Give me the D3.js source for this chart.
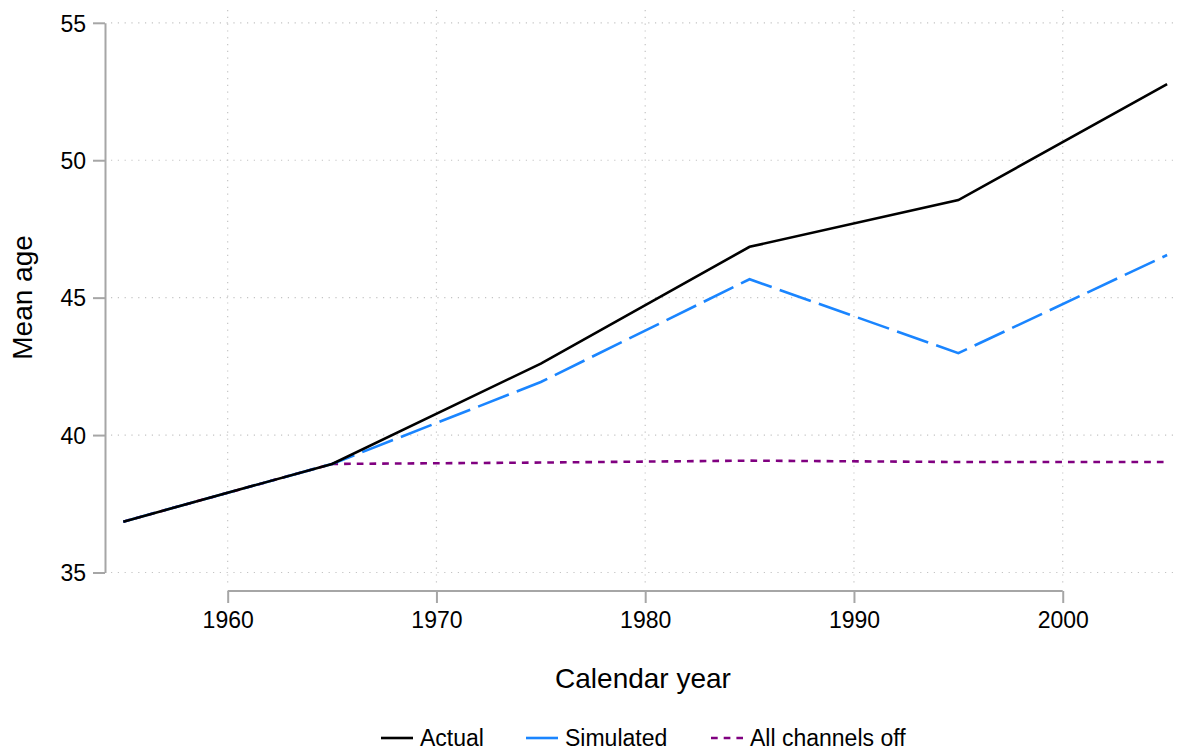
<!DOCTYPE html>
<html>
<head>
<meta charset="utf-8">
<script src="https://cdn.jsdelivr.net/npm/d3@7"></script>
<style>
  body { margin: 0; background: #fff; }
  text { font-family: "Liberation Sans", Arial, Helvetica, sans-serif; fill: #000; }
</style>
</head>
<body>
<div id="chart-area"></div>
<script>
// chart size
var width = 1178,
    height = 751;

// data
let years = [1955, 1965, 1975, 1985, 1995, 2005];
let actual = [36.85, 38.95, 42.6, 46.85, 48.55, 52.77];
let simulated = [36.85, 38.95, 41.93, 45.67, 42.98, 46.55];
let channelsOff = [36.85, 38.95, 39.0, 39.07, 39.02, 39.02];

let xTicks = [1960, 1970, 1980, 1990, 2000];
let yTicks = [35, 40, 45, 50, 55];

let seriesNames = ["Actual", "Simulated", "All channels off"];
let seriesColors = ["#000000", "#1a85ff", "#800080"];
let seriesDash = [null, "33,8.5", "6.7,6"];

let series = [actual, simulated, channelsOff].map((vals, i) => ({
  name: seriesNames[i],
  color: seriesColors[i],
  dash: seriesDash[i],
  values: years.map((y, j) => ({ year: y, value: vals[j] }))
}));

let svg = d3.select("#chart-area").append("svg")
  .attr("width", width)
  .attr("height", height);

let x = d3.scaleLinear()
  .domain([1955, 2005])
  .range([123.3, 1167.1]);

let y = d3.scaleLinear()
  .domain([35, 55])
  .range([572.5, 22.8]);

let axisColor = "#a6a6a6";

// grid
svg.append("g").selectAll("line")
  .data(yTicks)
  .enter().append("line")
  .attr("x1", 111).attr("x2", width)
  .attr("y1", d => y(d)).attr("y2", d => y(d))
  .attr("stroke", "#c4c4c4")
  .attr("stroke-width", 1.2)
  .attr("stroke-dasharray", "1.2,5.6");

svg.append("g").selectAll("line")
  .data(xTicks)
  .enter().append("line")
  .attr("x1", d => x(d)).attr("x2", d => x(d))
  .attr("y1", 10).attr("y2", 584)
  .attr("stroke", "#c4c4c4")
  .attr("stroke-width", 1.2)
  .attr("stroke-dasharray", "1.2,5.6");

// axes
let yaxis = d3.axisLeft(y)
  .tickValues(yTicks)
  .tickSize(12)
  .tickSizeOuter(0)
  .tickPadding(7);

let gy = svg.append("g")
  .attr("transform", "translate(105,0)")
  .call(yaxis);

let xaxis = d3.axisBottom(x)
  .tickValues(xTicks)
  .tickFormat(d3.format("d"))
  .tickSize(12)
  .tickSizeOuter(0)
  .tickPadding(9);

let gx = svg.append("g")
  .attr("transform", "translate(0,591)")
  .call(xaxis);
// Stata-style axis line only spans the ticks
gx.select(".domain").attr("d", "M" + x(xTicks[0]) + ",0H" + x(xTicks[xTicks.length - 1]));

[gx, gy].forEach(g => {
  g.select(".domain").attr("stroke", axisColor).attr("stroke-width", 2);
  g.selectAll(".tick line").attr("stroke", axisColor).attr("stroke-width", 2);
  g.selectAll(".tick text")
    .attr("font-family", "Liberation Sans, Arial, sans-serif")
    .attr("font-size", 23)
    .attr("fill", "#000");
});
gy.selectAll(".tick text").attr("dy", "0.36em");

// lines
let line = d3.line()
  .x(d => x(d.year))
  .y(d => y(d.value));

svg.append("g").selectAll("path")
  .data(series.slice().reverse())
  .enter().append("path")
  .attr("d", d => line(d.values))
  .attr("fill", "none")
  .attr("stroke", d => d.color)
  .attr("stroke-width", 2.6)
  .attr("stroke-dasharray", d => d.dash);

// axis titles
svg.append("text")
  .attr("x", 643)
  .attr("y", 688)
  .attr("text-anchor", "middle")
  .attr("font-size", 28)
  .text("Calendar year");

svg.append("text")
  .attr("transform", "rotate(-90)")
  .attr("x", -297.5)
  .attr("y", 32)
  .attr("text-anchor", "middle")
  .attr("font-size", 28)
  .text("Mean age");

// legend
let legendX = [381, 526, 711];
let legend = svg.append("g").selectAll("g")
  .data(series)
  .enter().append("g")
  .attr("transform", (d, i) => "translate(" + legendX[i] + ",738)");

legend.append("line")
  .attr("x1", 0).attr("x2", 32)
  .attr("y1", 0).attr("y2", 0)
  .attr("stroke", d => d.color)
  .attr("stroke-width", 2.6)
  .attr("stroke-dasharray", (d, i) => i == 2 ? "6.7,6" : null);

legend.append("text")
  .attr("x", 39)
  .attr("y", 7.5)
  .attr("font-size", 23)
  .text(d => d.name);
</script>
</body>
</html>
